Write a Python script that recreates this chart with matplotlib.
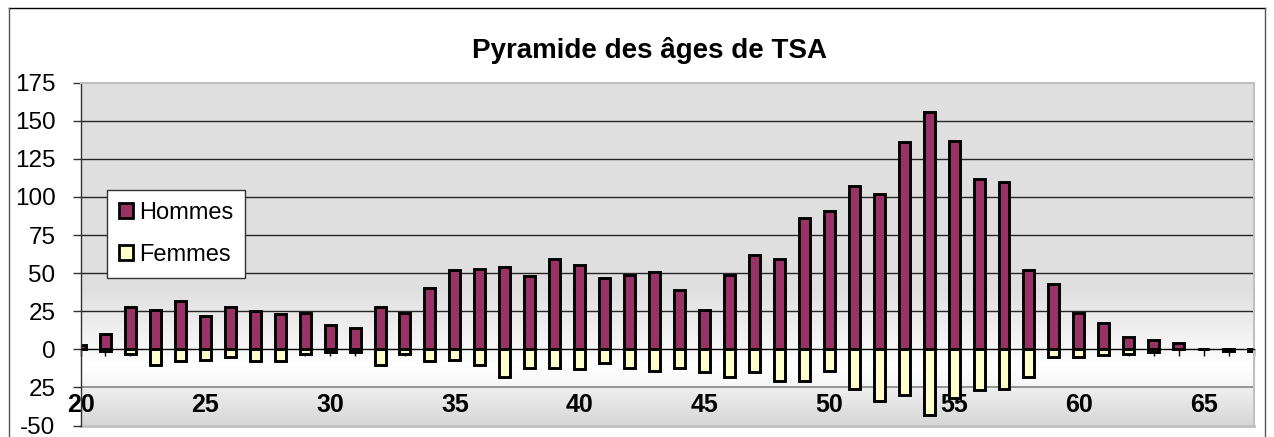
import matplotlib
matplotlib.use('Agg')
import matplotlib.pyplot as plt
import numpy as np
from matplotlib.patches import Patch
from matplotlib.lines import Line2D

# ---- data ----
ages = list(range(20, 68))
hommes = [3, 10, 28, 26, 32, 22, 28, 25, 23, 24,
          16, 14, 28, 24, 40, 52, 53, 54, 48, 59,
          55, 47, 49, 51, 39, 26, 49, 62, 59, 86,
          91, 107, 102, 136, 156, 137, 112, 110, 52, 43,
          24, 17, 8, 6, 4, 0, 0, 0]
femmes = [0, -1, -3, -10, -8, -7, -5, -8, -8, -3,
          -2, -2, -10, -3, -8, -7, -10, -18, -12, -12,
          -13, -9, -12, -14, -12, -15, -18, -15, -21, -21,
          -14, -26, -34, -30, -43, -32, -27, -26, -18, -5,
          -5, -4, -3, -2, 0, 0, -1, -1]
ytick_vals = [175, 150, 125, 100, 75, 50, 25, 0, -25, -50]
ytick_labels = ["175", "150", "125", "100", "75", "50", "25", "0", "25", "-50"]
xlabel_vals = [20, 25, 30, 35, 40, 45, 50, 55, 60, 65]
series_names = ["Hommes", "Femmes"]
title = "Pyramide des âges de TSA"

plt.rcParams['font.family'] = ['Liberation Sans', 'DejaVu Sans']

W, H = 1274, 437
fig = plt.figure(figsize=(W / 100, H / 100), dpi=100)
fig.patch.set_facecolor('white')

L, R, T, B = 80.5, 1253.6, 82.6, 425.5
ax = fig.add_axes([L / W, 1 - B / H, (R - L) / W, (B - T) / H])

# background gradient of the plot area
yy = np.linspace(175, -50, 900)
kx = [-50, -25.01, -25, -22, -10, 0, 40, 175]
kv = [0.84, 0.935, 0.95, 0.97, 1.0, 0.97, 0.875, 0.875]
g = np.interp(yy, kx, kv)
img = np.repeat(g[:, None], 2, axis=1)
ax.imshow(np.dstack([img, img, img]), extent=[20, 67, -50, 175],
          aspect='auto', zorder=0, interpolation='bilinear')

# gridlines
for v in [25, 50, 75, 100, 125, 150]:
    ax.axhline(v, color='#262626', lw=1, zorder=0.5)
ax.axhline(-25, color='#8c8c8c', lw=1.3, zorder=0.5)

# bars
ax.bar(ages, hommes, width=0.44, color='#993366', edgecolor='black',
       linewidth=2.1, zorder=2)
ax.bar(ages, femmes, width=0.44, color='#FFFFCC', edgecolor='black',
       linewidth=2.1, zorder=2)

ax.set_xlim(20, 67)
ax.set_ylim(-50, 175)

# spines
ax.spines['left'].set_color('#333333')
ax.spines['left'].set_linewidth(1)
ax.spines['bottom'].set_position(('data', 0))
ax.spines['bottom'].set_color('black')
ax.spines['bottom'].set_linewidth(1)
for s in ['top', 'right']:
    ax.spines[s].set_color('#C0C0C0')
    ax.spines[s].set_linewidth(1.5)
ax.axhline(-50, color='#C0C0C0', lw=2, clip_on=False, zorder=0.6)

ax.set_xticks(ages)
ax.tick_params(axis='x', direction='out', length=5.3, width=1,
               color='black', labelbottom=False)
ax.set_yticks(ytick_vals)
ax.set_yticklabels(ytick_labels)
ax.tick_params(axis='y', direction='out', length=6, width=1,
               color='#333333', pad=12, labelsize=17.5)

for v in xlabel_vals:
    ax.text(v, -36.5, str(v), ha='center', va='center', fontsize=18,
            fontweight='bold', clip_on=False, zorder=1.5)

# legend
handles = [Patch(facecolor='#993366', edgecolor='black', lw=2, label=series_names[0]),
           Patch(facecolor='#FFFFCC', edgecolor='black', lw=2, label=series_names[1])]
leg = fig.legend(handles=handles, loc='upper left',
                 bbox_to_anchor=(107 / W, 1 - 190 / H), frameon=True,
                 fancybox=False, edgecolor='#333333', framealpha=1,
                 fontsize=17, handlelength=0.6, handleheight=0.6,
                 handletextpad=0.25, labelspacing=0.85, borderpad=0.5,
                 borderaxespad=0)
leg.get_frame().set_linewidth(1)

fig.text(650 / W, 1 - 50 / H, title, ha='center', va='center',
         fontsize=20, fontweight='bold')

# chart area border
fig.add_artist(Line2D([9 / W, 1265 / W], [1 - 8 / H, 1 - 8 / H], color='black', lw=1))
fig.add_artist(Line2D([9 / W, 9 / W], [1 - 8 / H, 0], color='#555555', lw=1))
fig.add_artist(Line2D([1265 / W, 1265 / W], [1 - 8 / H, 0], color='#555555', lw=1))

fig.savefig('out.png', dpi=100)
